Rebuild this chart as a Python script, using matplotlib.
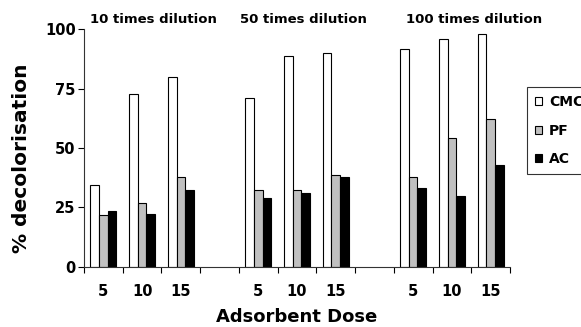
import numpy as np
import matplotlib.pyplot as plt

# Decolorisation (%) for each adsorbent at doses 5, 10, 15 per dilution
dilutions = ['10 times dilution', '50 times dilution', '100 times dilution']
doses = ['5', '10', '15']
cmc = [34.5, 72.5, 79.7, 71.0, 88.8, 89.8, 91.5, 95.8, 98.0]
pf = [22.0, 27.0, 38.0, 32.5, 32.5, 38.5, 38.0, 54.0, 62.0]
ac = [23.5, 22.2, 32.4, 29.0, 31.0, 38.0, 33.3, 30.0, 43.0]

plt.rcParams['font.family'] = ['DejaVu Sans']
plt.rcParams['font.weight'] = 'bold'

fig = plt.figure(figsize=(5.81, 3.27), dpi=100)
ax = fig.add_axes([0.1446, 0.1835, 0.7332, 0.7278])

# one empty slot between dilution groups
pos = []
for g in range(len(dilutions)):
    for d in range(len(doses)):
        pos.append(g * 4 + d)
pos = np.array(pos)

w = 1 / 4.5
kw = dict(width=w, edgecolor='black', linewidth=0.8)
ax.bar(pos - w, cmc, color='white', label='CMC', **kw)
ax.bar(pos, pf, color='#c0c0c0', label='PF', **kw)
ax.bar(pos + w, ac, color='black', label='AC', **kw)

ax.set_xlim(-0.5, 10.5)
ax.set_ylim(0, 100)
ax.set_yticks([0, 25, 50, 75, 100])
ax.set_xticks(pos)
ax.set_xticklabels(doses * len(dilutions), fontsize=10.5, fontweight='bold')
ax.set_xticks(np.arange(-0.5, 11, 1), minor=True)
ax.tick_params(axis='x', which='major', length=0, pad=12)
ax.tick_params(axis='x', which='minor', length=4, width=0.8, direction='out')
ax.tick_params(axis='y', length=4, width=0.8, labelsize=10.5, pad=2)
for lab in ax.get_yticklabels():
    lab.set_fontweight('bold')

for s in ['top', 'right']:
    ax.spines[s].set_visible(False)
for s in ['left', 'bottom']:
    ax.spines[s].set_linewidth(0.8)
    ax.spines[s].set_color('#333333')

ax.set_xlabel('Adsorbent Dose', fontsize=13, fontweight='bold', labelpad=7)
ax.set_ylabel('% decolorisation', fontsize=14.5, fontweight='bold')
ax.yaxis.set_label_coords(-0.125, 0.455)

# group headings above the plot
for x0, txt in zip([-0.35, 3.53, 7.81], dilutions):
    ax.text(x0, 103.8, txt, ha='left', va='center', fontsize=9.5,
            fontweight='bold', clip_on=False)

leg = fig.legend(loc='upper left', bbox_to_anchor=(0.907, 0.735),
                 fontsize=10, frameon=True, fancybox=False,
                 handlelength=0.5, handleheight=0.5, handletextpad=0.5,
                 labelspacing=1.05, borderpad=0.6, borderaxespad=0)
leg.get_frame().set_edgecolor('black')
leg.get_frame().set_linewidth(0.8)
for t in leg.get_texts():
    t.set_fontweight('bold')

fig.savefig('out.png', dpi=100)
